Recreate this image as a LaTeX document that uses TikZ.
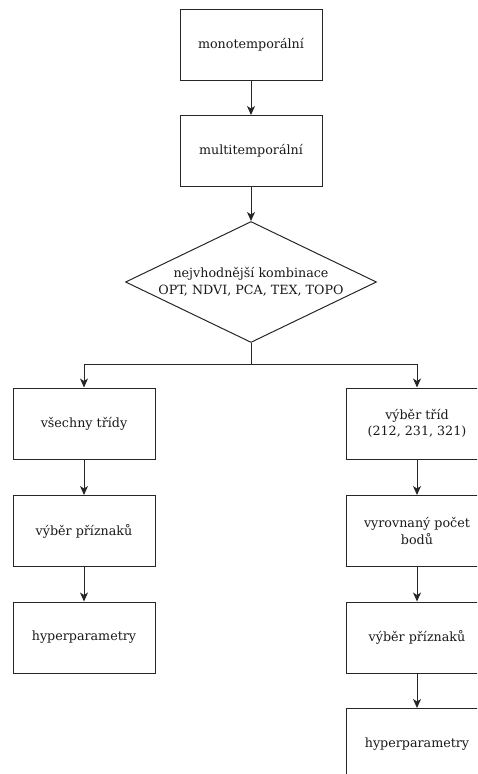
\documentclass[tikz,border=0pt]{standalone}
\usepackage{fontspec}
\setmainfont{DejaVu Serif}
\usetikzlibrary{shapes.geometric,arrows.meta}
\begin{document}
\begin{tikzpicture}[x=1pt,y=-1pt,
  every node/.style={font=\fontsize{12.7}{16.5}\selectfont, text=black!90},
  box/.style={draw=black!85, line width=1pt, minimum width=142pt, minimum height=71pt, inner sep=2pt, align=center},
  dia/.style={draw=black!85, line width=1pt, diamond, aspect=2, inner sep=0pt, minimum width=251pt, minimum height=118pt, align=center},
  arr/.style={draw=black!85, line width=1pt, -{Stealth[length=9pt,width=8pt,inset=2.5pt]}},
  ln/.style={draw=black!85, line width=1pt}]
\useasboundingbox (0,0) rectangle (477,774);
\clip (0,0) rectangle (477,774);
\node[box] (mono) at (251,45) {monotemporální};
\node[box] (multi) at (251,151) {multitemporální};
\node[dia] (komb) at (251,282) {nejvhodnější kombinace\\OPT, NDVI, PCA, TEX, TOPO};
\coordinate (j) at (251,364);
\coordinate (jl) at (84,364);
\coordinate (jr) at (417,364);
\node[box] (all) at (84,423.5) {všechny třídy};
\node[box] (lp) at (84,531) {výběr příznaků};
\node[box] (lh) at (84,637.5) {hyperparametry};
\node[box] (sel) at (417,423.5) {výběr tříd\\(212, 231, 321)};
\node[box] (bal) at (417,531) {vyrovnaný počet\\bodů};
\node[box] (rp) at (417,637.5) {výběr příznaků};
\node[box] (rh) at (417,744) {hyperparametry};
\draw[arr] (mono) -- (multi);
\draw[arr] (multi) -- (komb);
\draw[ln] (komb.south) -- (j);
\draw[arr] (j) -- (jl) -- (all);
\draw[arr] (j) -- (jr) -- (sel);
\draw[arr] (all) -- (lp);
\draw[arr] (lp) -- (lh);
\draw[arr] (sel) -- (bal);
\draw[arr] (bal) -- (rp);
\draw[arr] (rp) -- (rh);
\end{tikzpicture}
\end{document}
